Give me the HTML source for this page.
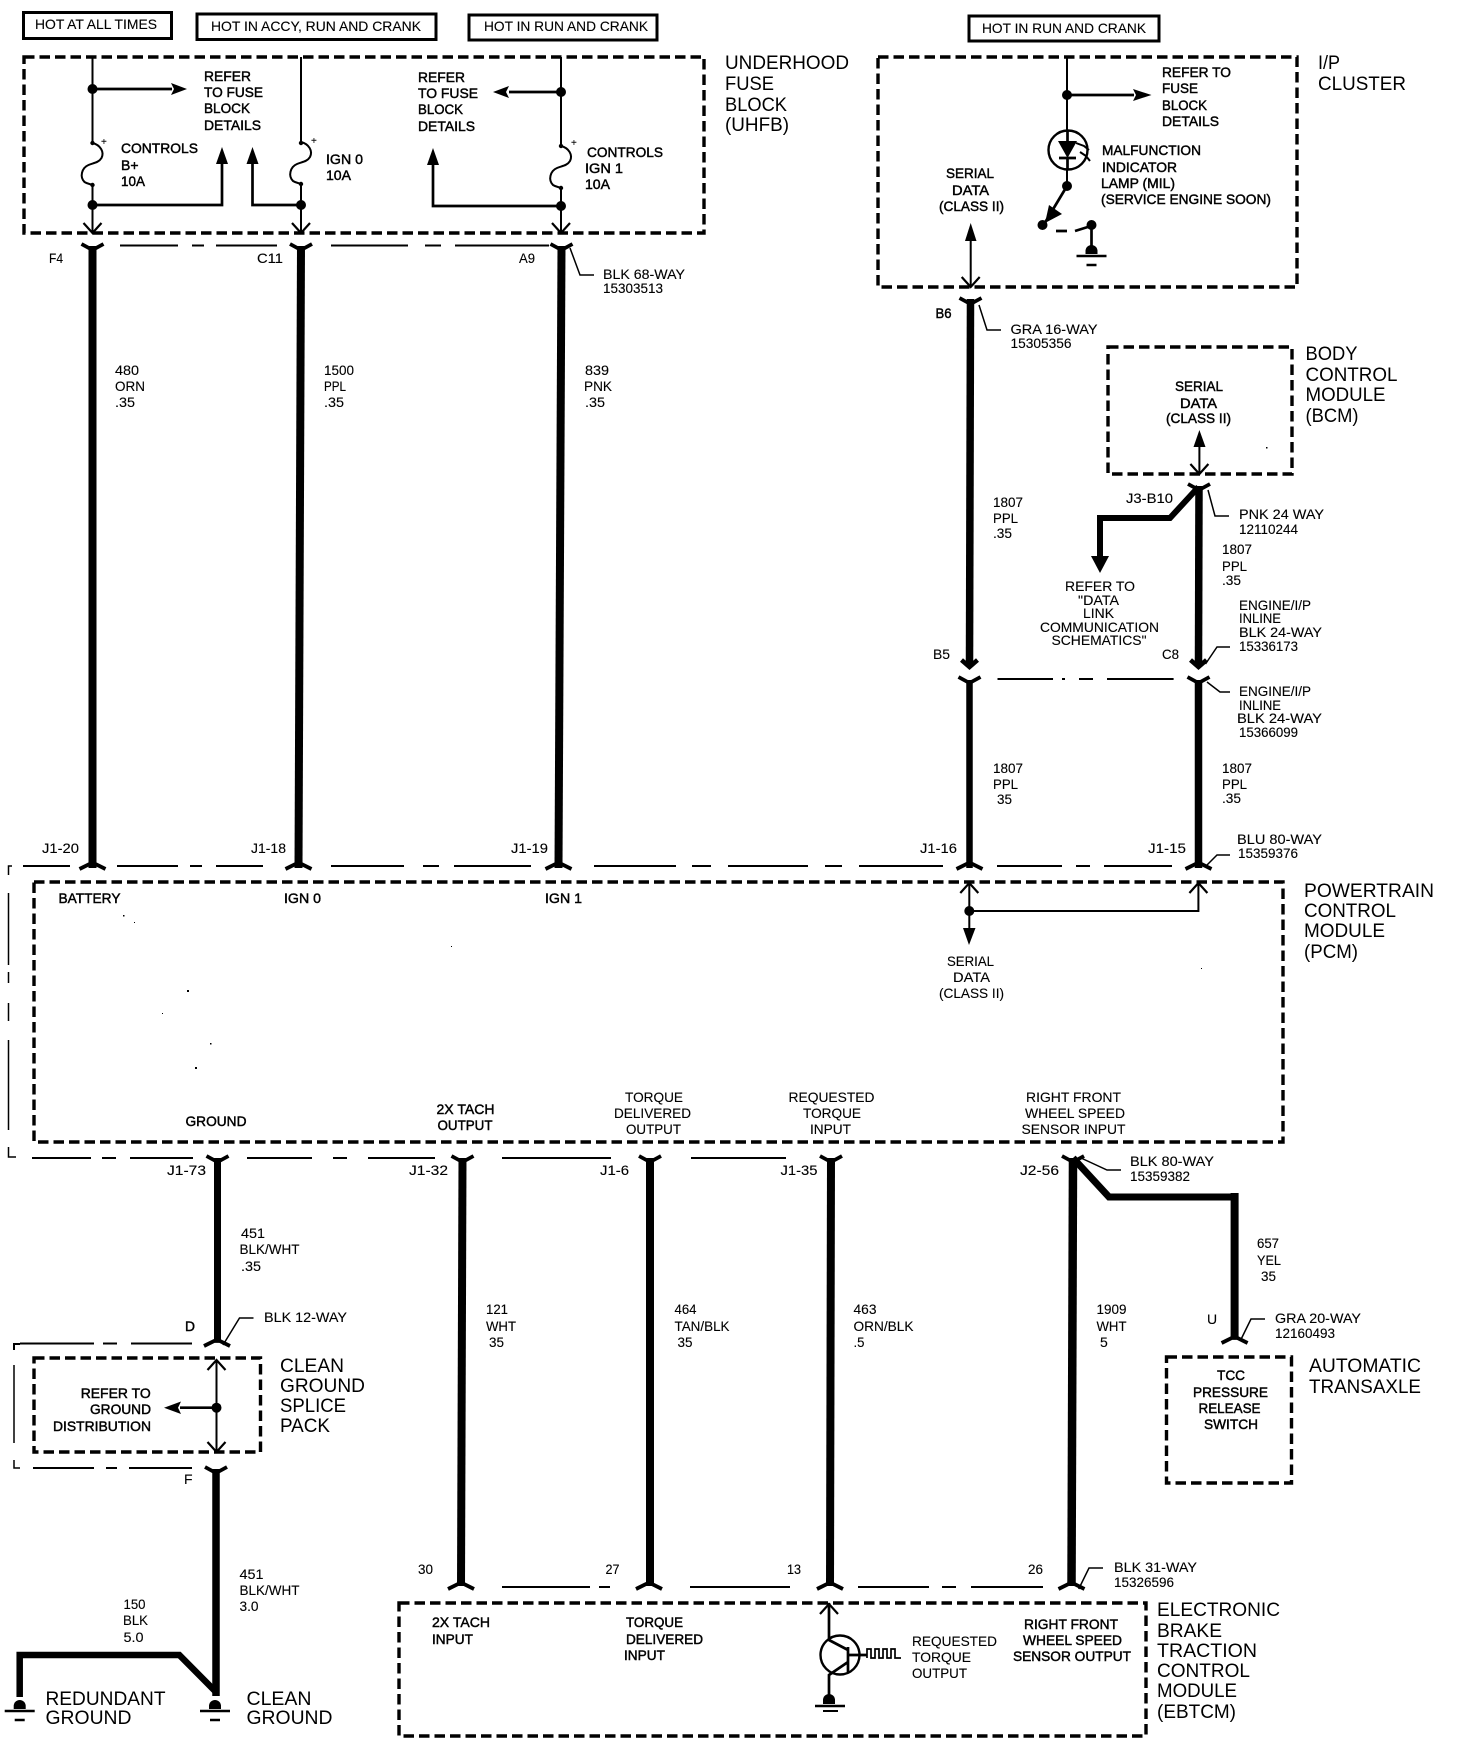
<!DOCTYPE html>
<html>
<head>
<meta charset="utf-8">
<title>Wiring Schematic</title>
<style>
html,body{margin:0;padding:0;background:#fff;width:1472px;height:1748px;overflow:hidden}
svg{display:block}
text{font-family:"Liberation Sans",sans-serif;fill:#000}
.t{font-size:14px;stroke:#000;stroke-width:.12px}
.b{font-size:14px;stroke:#000;stroke-width:.45px}
.L{font-size:19px}
.box{fill:none;stroke:#000;stroke-width:3.4;stroke-dasharray:10.5 5}
.hot{fill:#fff;stroke:#000;stroke-width:3}
.w{fill:none;stroke:#000;stroke-width:8;stroke-linejoin:miter}
.n{fill:none;stroke:#000;stroke-width:2}
.m{fill:none;stroke:#000;stroke-width:2.7}
.l{fill:none;stroke:#000;stroke-width:1.5}
.d{fill:none;stroke:#000;stroke-width:2}
.o{fill:none;stroke:#000;stroke-width:2.2}
.c{fill:none;stroke:#000;stroke-width:3.8}
.k{fill:none;stroke:#000;stroke-width:4.5}
</style>
</head>
<body>
<svg width="1472" height="1748" viewBox="0 0 1472 1748" xmlns="http://www.w3.org/2000/svg">
<defs>
<path id="ct" class="c" d="M-11 -2L0 4L11 -2"/>
<path id="cb" class="c" d="M-13 3L-3 -2L3 -2L13 3"/>
<path id="ad" class="o" d="M-9 -10L0 0L9 -10"/>
<path id="au" class="o" d="M-9 10L0 0L9 10"/>
<path id="kd" class="k" d="M-8 -8L0 -1L8 -8"/>
<path id="fuse" class="n" d="M0 0C8 2 12 9 9 15C6 20 0 20 -4 22C-11 25 -13 34 -8 39C-5 41 -2 41 0 42"/>
<g id="gnd"><path d="M-6 0A6 6 0 0 1 6 0L6 3L-6 3Z"/><path d="M-15 5H15" stroke="#000" stroke-width="2.5"/><path d="M-5 14H5" stroke="#000" stroke-width="2.5"/></g>
</defs>
<rect width="1472" height="1748" fill="#fff"/>

<!-- hot boxes -->
<rect class="hot" x="23.5" y="12.5" width="148" height="26"/>
<rect class="hot" x="197" y="14" width="239" height="25.5"/>
<rect class="hot" x="469" y="15" width="188" height="25"/>
<rect class="hot" x="969" y="16" width="190" height="25"/>
<text class="t" x="35" y="29" textLength="122" lengthAdjust="spacingAndGlyphs">HOT AT ALL TIMES</text>
<text class="t" x="211" y="31" textLength="210" lengthAdjust="spacingAndGlyphs">HOT IN ACCY, RUN AND CRANK</text>
<text class="t" x="484" y="31" textLength="164" lengthAdjust="spacingAndGlyphs">HOT IN RUN AND CRANK</text>
<text class="t" x="982" y="33" textLength="164" lengthAdjust="spacingAndGlyphs">HOT IN RUN AND CRANK</text>

<!-- UHFB box -->
<rect class="box" x="24" y="57" width="680" height="176"/>
<path class="n" d="M92.5 57V143M92.5 185V233M301 57V143M301 184V233M561 57V145M561 188V233"/>
<use href="#fuse" x="92.5" y="143"/>
<use href="#fuse" x="301" y="142"/>
<use href="#fuse" x="561" y="146"/>
<circle cx="92.5" cy="89" r="5"/><circle cx="92.5" cy="205" r="5"/><circle cx="301" cy="205" r="5"/><circle cx="561" cy="206" r="5"/><circle cx="561" cy="92" r="5"/>
<circle cx="92.5" cy="143" r="2.2"/><circle cx="92.5" cy="185" r="2.2"/><circle cx="301" cy="143" r="2.2"/><circle cx="301" cy="184" r="2.2"/><circle cx="561" cy="146" r="2.2"/><circle cx="561" cy="188" r="2.2"/>
<path class="m" d="M92.5 89H172M509 92H561V92M509 92H561"/>
<path d="M171 83L187 89L171 95L174 89Z"/><path d="M509 86L493 92L509 98L506 92Z"/>
<path class="m" d="M92.5 205H222V162M252.5 162V205H301M433 162V206H561"/>
<path d="M222 147L216 164H228Z"/><path d="M252.5 147L246.5 164H258.5Z"/><path d="M433 148L427 165H439Z"/>
<use href="#ad" x="92.5" y="233"/><use href="#ad" x="301" y="233"/><use href="#ad" x="561" y="233"/>
<text class="t" x="101" y="145" style="font-size:10px">+</text><text class="t" x="311" y="144" style="font-size:10px">+</text><text class="t" x="571" y="146" style="font-size:10px">+</text>
<text class="b" x="204" y="81" textLength="47" lengthAdjust="spacingAndGlyphs">REFER</text>
<text class="b" x="204" y="97" textLength="59" lengthAdjust="spacingAndGlyphs">TO FUSE</text>
<text class="b" x="204" y="113" textLength="46" lengthAdjust="spacingAndGlyphs">BLOCK</text>
<text class="b" x="204" y="130" textLength="57" lengthAdjust="spacingAndGlyphs">DETAILS</text>
<text class="b" x="418" y="82" textLength="47" lengthAdjust="spacingAndGlyphs">REFER</text>
<text class="b" x="418" y="98" textLength="60" lengthAdjust="spacingAndGlyphs">TO FUSE</text>
<text class="b" x="418" y="114" textLength="45" lengthAdjust="spacingAndGlyphs">BLOCK</text>
<text class="b" x="418" y="131" textLength="57" lengthAdjust="spacingAndGlyphs">DETAILS</text>
<text class="b" x="121" y="153" textLength="77" lengthAdjust="spacingAndGlyphs">CONTROLS</text>
<text class="b" x="121" y="170">B+</text>
<text class="b" x="121" y="186" textLength="24" lengthAdjust="spacingAndGlyphs">10A</text>
<text class="b" x="326" y="164" textLength="37" lengthAdjust="spacingAndGlyphs">IGN 0</text>
<text class="b" x="326" y="180" textLength="25" lengthAdjust="spacingAndGlyphs">10A</text>
<text class="b" x="587" y="157" textLength="76" lengthAdjust="spacingAndGlyphs">CONTROLS</text>
<text class="b" x="585" y="173" textLength="38" lengthAdjust="spacingAndGlyphs">IGN 1</text>
<text class="b" x="585" y="189" textLength="25" lengthAdjust="spacingAndGlyphs">10A</text>
<text class="L" x="725" y="69" textLength="124" lengthAdjust="spacingAndGlyphs">UNDERHOOD</text>
<text class="L" x="725" y="90" textLength="49" lengthAdjust="spacingAndGlyphs">FUSE</text>
<text class="L" x="725" y="111" textLength="62" lengthAdjust="spacingAndGlyphs">BLOCK</text>
<text class="L" x="725" y="131" textLength="64" lengthAdjust="spacingAndGlyphs">(UHFB)</text>

<!-- harness dashed 245 -->
<path class="d" d="M120 245.5H178M192 245.5H204M216 245.5H277M331 245.5H408M425 245.5H441M455 245.5H549"/>
<!-- upper wires -->
<path class="w" d="M92.5 246V868"/>
<path class="w" d="M301 246L298.5 868"/>
<path class="w" d="M561.5 246L558.5 868"/>
<use href="#ct" x="92.5" y="246"/><use href="#ct" x="301" y="246"/><use href="#ct" x="561.5" y="246"/>
<text class="t" x="49" y="263" textLength="14" lengthAdjust="spacingAndGlyphs">F4</text>
<text class="t" x="257" y="263" textLength="26" lengthAdjust="spacingAndGlyphs">C11</text>
<text class="t" x="519" y="263" textLength="16" lengthAdjust="spacingAndGlyphs">A9</text>
<path class="l" d="M570 248L580 275H594"/>
<text class="t" x="603" y="279" textLength="82" lengthAdjust="spacingAndGlyphs">BLK 68-WAY</text>
<text class="t" x="603" y="293" textLength="60" lengthAdjust="spacingAndGlyphs">15303513</text>
<text class="t" x="115" y="375" textLength="24" lengthAdjust="spacingAndGlyphs">480</text>
<text class="t" x="115" y="391" textLength="30" lengthAdjust="spacingAndGlyphs">ORN</text>
<text class="t" x="115" y="407" textLength="20" lengthAdjust="spacingAndGlyphs">.35</text>
<text class="t" x="324" y="375" textLength="30" lengthAdjust="spacingAndGlyphs">1500</text>
<text class="t" x="324" y="391" textLength="22" lengthAdjust="spacingAndGlyphs">PPL</text>
<text class="t" x="324" y="407" textLength="20" lengthAdjust="spacingAndGlyphs">.35</text>
<text class="t" x="585" y="375" textLength="24" lengthAdjust="spacingAndGlyphs">839</text>
<text class="t" x="584" y="391" textLength="28" lengthAdjust="spacingAndGlyphs">PNK</text>
<text class="t" x="585" y="407" textLength="20" lengthAdjust="spacingAndGlyphs">.35</text>
<text class="t" x="42" y="853" textLength="37" lengthAdjust="spacingAndGlyphs">J1-20</text>
<text class="t" x="251" y="853" textLength="35" lengthAdjust="spacingAndGlyphs">J1-18</text>
<text class="t" x="511" y="853" textLength="37" lengthAdjust="spacingAndGlyphs">J1-19</text>

<!-- I/P cluster -->
<rect class="box" x="878" y="57" width="419" height="230"/>
<path class="n" d="M1067 57V130M1067 170V186"/>
<circle cx="1067" cy="95" r="5"/>
<path class="m" d="M1067 95H1134"/><path d="M1133 89L1151.5 95L1133 101L1136 95Z"/>
<circle cx="1068" cy="150" r="19.5" fill="none" stroke="#000" stroke-width="2.4"/>
<path d="M1058 141H1077L1067.5 158Z"/>
<path class="m" d="M1059 158H1076M1067.5 130V141M1067.5 158V170"/>
<path d="M1076 143L1084 146L1089 150M1080 152L1086 156L1090 161" fill="none" stroke="#000" stroke-width="2"/>
<circle cx="1067" cy="186" r="5"/>
<path class="m" d="M1067 186L1043 226"/>
<path d="M1049 205L1062 214L1045 223Z"/>
<circle cx="1042.5" cy="225" r="5"/><circle cx="1091.5" cy="225" r="5"/>
<path class="m" d="M1056 231H1067M1075 231L1091 226M1091.5 225V250"/>
<use href="#gnd" x="1091.5" y="251"/>
<text class="b" x="1162" y="77" textLength="69" lengthAdjust="spacingAndGlyphs">REFER TO</text>
<text class="b" x="1162" y="93" textLength="36" lengthAdjust="spacingAndGlyphs">FUSE</text>
<text class="b" x="1162" y="110" textLength="45" lengthAdjust="spacingAndGlyphs">BLOCK</text>
<text class="b" x="1162" y="126" textLength="57" lengthAdjust="spacingAndGlyphs">DETAILS</text>
<text class="b" x="1102" y="155" textLength="99" lengthAdjust="spacingAndGlyphs">MALFUNCTION</text>
<text class="b" x="1102" y="172" textLength="75" lengthAdjust="spacingAndGlyphs">INDICATOR</text>
<text class="b" x="1101" y="188" textLength="74" lengthAdjust="spacingAndGlyphs">LAMP (MIL)</text>
<text class="b" x="1101" y="204" textLength="170" lengthAdjust="spacingAndGlyphs">(SERVICE ENGINE SOON)</text>
<text class="b" x="946" y="178" textLength="48" lengthAdjust="spacingAndGlyphs">SERIAL</text>
<text class="b" x="952" y="195" textLength="37" lengthAdjust="spacingAndGlyphs">DATA</text>
<text class="b" x="939" y="211" textLength="65" lengthAdjust="spacingAndGlyphs">(CLASS II)</text>
<path class="n" d="M970.7 238V287"/><path d="M970.7 223L965 241H976.5Z"/>
<use href="#ad" x="970.7" y="287"/>
<text class="L" x="1318" y="69" textLength="22" lengthAdjust="spacingAndGlyphs">I/P</text>
<text class="L" x="1318" y="90" textLength="88" lengthAdjust="spacingAndGlyphs">CLUSTER</text>

<!-- left serial wire -->
<path class="w" style="stroke-width:7.5" d="M970.5 299L969.5 664"/>
<use href="#ct" x="970.5" y="300"/><use href="#kd" x="969.5" y="668"/>
<text class="b" x="935.5" y="318" textLength="16" lengthAdjust="spacingAndGlyphs">B6</text>
<path class="l" d="M979 305L987 330H1001"/>
<text class="t" x="1010.5" y="334" textLength="87" lengthAdjust="spacingAndGlyphs">GRA 16-WAY</text>
<text class="t" x="1010.5" y="348" textLength="61" lengthAdjust="spacingAndGlyphs">15305356</text>
<text class="t" x="993" y="507" textLength="30" lengthAdjust="spacingAndGlyphs">1807</text>
<text class="t" x="993" y="523" textLength="25" lengthAdjust="spacingAndGlyphs">PPL</text>
<text class="t" x="993" y="538" textLength="19" lengthAdjust="spacingAndGlyphs">.35</text>
<text class="t" x="933" y="659" textLength="17" lengthAdjust="spacingAndGlyphs">B5</text>

<!-- BCM -->
<rect class="box" x="1108" y="347" width="184" height="127"/>
<text class="b" x="1175" y="391" textLength="48" lengthAdjust="spacingAndGlyphs">SERIAL</text>
<text class="b" x="1180" y="408" textLength="37" lengthAdjust="spacingAndGlyphs">DATA</text>
<text class="b" x="1166" y="423" textLength="65" lengthAdjust="spacingAndGlyphs">(CLASS II)</text>
<path class="n" d="M1199.4 445V474"/><path d="M1199.4 430L1193.5 447H1205.5Z"/>
<use href="#ad" x="1199.4" y="474"/>
<text class="L" x="1305.5" y="360" textLength="52" lengthAdjust="spacingAndGlyphs">BODY</text>
<text class="L" x="1305.5" y="381" textLength="92" lengthAdjust="spacingAndGlyphs">CONTROL</text>
<text class="L" x="1305.5" y="401" textLength="80" lengthAdjust="spacingAndGlyphs">MODULE</text>
<text class="L" x="1305.5" y="422" textLength="53" lengthAdjust="spacingAndGlyphs">(BCM)</text>

<!-- right serial wire -->
<path class="w" style="stroke-width:7.5" d="M1199 486L1198.5 664"/>
<use href="#ct" x="1199" y="486"/><use href="#kd" x="1198.5" y="668"/>
<path class="w" style="stroke-width:6" d="M1198.5 487L1170 518H1100V558"/>
<path d="M1091 556H1109L1100 573Z"/>
<text class="t" x="1126" y="503" textLength="47" lengthAdjust="spacingAndGlyphs">J3-B10</text>
<path class="l" d="M1208 490L1215 516H1229"/>
<text class="t" x="1239" y="519" textLength="85" lengthAdjust="spacingAndGlyphs">PNK 24 WAY</text>
<text class="t" x="1239" y="534" textLength="59" lengthAdjust="spacingAndGlyphs">12110244</text>
<text class="t" x="1222" y="554" textLength="30" lengthAdjust="spacingAndGlyphs">1807</text>
<text class="t" x="1222" y="571" textLength="25" lengthAdjust="spacingAndGlyphs">PPL</text>
<text class="t" x="1222" y="585" textLength="19" lengthAdjust="spacingAndGlyphs">.35</text>
<text class="t" x="1065" y="591" textLength="70" lengthAdjust="spacingAndGlyphs">REFER TO</text>
<text class="t" x="1078" y="605" textLength="41" lengthAdjust="spacingAndGlyphs">"DATA</text>
<text class="t" x="1083" y="618" textLength="31" lengthAdjust="spacingAndGlyphs">LINK</text>
<text class="t" x="1040" y="632" textLength="119" lengthAdjust="spacingAndGlyphs">COMMUNICATION</text>
<text class="t" x="1051.5" y="645" textLength="95" lengthAdjust="spacingAndGlyphs">SCHEMATICS"</text>
<text class="t" x="1239" y="610" textLength="72" lengthAdjust="spacingAndGlyphs">ENGINE/I/P</text>
<text class="t" x="1239" y="623" textLength="42" lengthAdjust="spacingAndGlyphs">INLINE</text>
<text class="t" x="1239" y="637" textLength="83" lengthAdjust="spacingAndGlyphs">BLK 24-WAY</text>
<text class="t" x="1239" y="651" textLength="59" lengthAdjust="spacingAndGlyphs">15336173</text>
<path class="l" d="M1205.5 664L1217 647H1230"/>
<text class="t" x="1162" y="659" textLength="17" lengthAdjust="spacingAndGlyphs">C8</text>

<!-- inline 679 -->
<path class="d" d="M997.5 679H1053M1062 679H1065M1079 679H1093M1107 679H1173.6"/>
<path class="w" style="stroke-width:6.5" d="M969.5 680V868"/>
<path class="w" style="stroke-width:7.5" d="M1198.5 680V868"/>
<use href="#ct" x="969.5" y="679"/><use href="#ct" x="1198.5" y="679"/>
<path class="l" d="M1207 682L1220 692H1230"/>
<text class="t" x="1239" y="696" textLength="72" lengthAdjust="spacingAndGlyphs">ENGINE/I/P</text>
<text class="t" x="1239" y="710" textLength="42" lengthAdjust="spacingAndGlyphs">INLINE</text>
<text class="t" x="1237" y="723" textLength="85" lengthAdjust="spacingAndGlyphs">BLK 24-WAY</text>
<text class="t" x="1239" y="737" textLength="59" lengthAdjust="spacingAndGlyphs">15366099</text>
<text class="t" x="993" y="773" textLength="30" lengthAdjust="spacingAndGlyphs">1807</text>
<text class="t" x="993" y="789" textLength="25" lengthAdjust="spacingAndGlyphs">PPL</text>
<text class="t" x="997" y="804" textLength="15" lengthAdjust="spacingAndGlyphs">35</text>
<text class="t" x="1222" y="773" textLength="30" lengthAdjust="spacingAndGlyphs">1807</text>
<text class="t" x="1222" y="789" textLength="25" lengthAdjust="spacingAndGlyphs">PPL</text>
<text class="t" x="1222" y="803" textLength="19" lengthAdjust="spacingAndGlyphs">.35</text>
<text class="t" x="920" y="853" textLength="37" lengthAdjust="spacingAndGlyphs">J1-16</text>
<text class="t" x="1148" y="853" textLength="38" lengthAdjust="spacingAndGlyphs">J1-15</text>
<text class="t" x="1237" y="844" textLength="85" lengthAdjust="spacingAndGlyphs">BLU 80-WAY</text>
<text class="t" x="1238" y="858" textLength="60" lengthAdjust="spacingAndGlyphs">15359376</text>
<path class="l" d="M1205.5 866.5L1217 855H1230"/>

<!-- PCM outer bracket -->
<path class="d" d="M23 866H70M117 866H178M190 866H202M216 866H263M331 866H404M423 866H439M454 866H531M594 866H676M692 866H711M728 866H808M825 866H842M859 866H943M997 866H1062M1076 866H1090M1104 866H1172"/>
<use href="#cb" x="92.5" y="866"/><use href="#cb" x="298.5" y="866"/><use href="#cb" x="558.5" y="866"/><use href="#cb" x="969.5" y="866"/><use href="#cb" x="1198.5" y="866"/>
<path class="l" d="M12 866H8.5V875M8.5 893V965M8.5 972V983M8.5 1003V1021M8.5 1040V1130M8.5 1147V1157H16"/>
<path class="d" d="M32 1158H91M102 1158H116M130 1158H193M247 1158H312M333 1158H347M368 1158H435M502 1158H611M691 1158H786"/>
<rect class="box" x="34" y="882" width="1249" height="260"/>
<text class="b" x="58.5" y="903" textLength="62" lengthAdjust="spacingAndGlyphs">BATTERY</text>
<text class="b" x="284" y="903" textLength="37" lengthAdjust="spacingAndGlyphs">IGN 0</text>
<text class="b" x="545" y="903" textLength="37" lengthAdjust="spacingAndGlyphs">IGN 1</text>
<text class="b" x="185.5" y="1126" textLength="61" lengthAdjust="spacingAndGlyphs">GROUND</text>
<text class="b" x="436.5" y="1114" textLength="58" lengthAdjust="spacingAndGlyphs">2X TACH</text>
<text class="b" x="437.5" y="1130" textLength="55" lengthAdjust="spacingAndGlyphs">OUTPUT</text>
<text class="t" x="625" y="1102" textLength="58" lengthAdjust="spacingAndGlyphs">TORQUE</text>
<text class="t" x="614" y="1118" textLength="77" lengthAdjust="spacingAndGlyphs">DELIVERED</text>
<text class="t" x="626" y="1134" textLength="55" lengthAdjust="spacingAndGlyphs">OUTPUT</text>
<text class="t" x="788.5" y="1102" textLength="86" lengthAdjust="spacingAndGlyphs">REQUESTED</text>
<text class="t" x="803" y="1118" textLength="58" lengthAdjust="spacingAndGlyphs">TORQUE</text>
<text class="t" x="810" y="1134" textLength="41" lengthAdjust="spacingAndGlyphs">INPUT</text>
<text class="t" x="1026" y="1102" textLength="95" lengthAdjust="spacingAndGlyphs">RIGHT FRONT</text>
<text class="t" x="1025" y="1118" textLength="100" lengthAdjust="spacingAndGlyphs">WHEEL SPEED</text>
<text class="t" x="1021.5" y="1134" textLength="104" lengthAdjust="spacingAndGlyphs">SENSOR INPUT</text>
<path class="n" d="M969.3 883V930M969.3 911H1198.4V883"/>
<use href="#au" x="969.3" y="883"/><use href="#au" x="1198.4" y="883"/>
<circle cx="969.3" cy="911" r="5"/>
<path d="M963 928L969 945L975.5 928Z"/>
<text class="t" x="947" y="966" textLength="47" lengthAdjust="spacingAndGlyphs">SERIAL</text>
<text class="t" x="953" y="982" textLength="37" lengthAdjust="spacingAndGlyphs">DATA</text>
<text class="t" x="939" y="998" textLength="65" lengthAdjust="spacingAndGlyphs">(CLASS II)</text>
<text class="L" x="1304" y="897" textLength="130" lengthAdjust="spacingAndGlyphs">POWERTRAIN</text>
<text class="L" x="1304" y="917" textLength="92" lengthAdjust="spacingAndGlyphs">CONTROL</text>
<text class="L" x="1304" y="937" textLength="81" lengthAdjust="spacingAndGlyphs">MODULE</text>
<text class="L" x="1304" y="958" textLength="54" lengthAdjust="spacingAndGlyphs">(PCM)</text>

<!-- lower wires -->
<path class="w" style="stroke-width:7" d="M217.5 1158V1342"/>
<path class="w" d="M462.5 1158L461 1586"/>
<path class="w" d="M650 1158V1586"/>
<path class="w" d="M831 1158L830 1586"/>
<path class="w" style="stroke-width:8.5" d="M1073 1158L1071.5 1586"/>
<path class="w" style="stroke-width:7" d="M1073 1158L1109 1197H1234.6"/>
<path class="w" d="M1234.6 1193V1338"/>
<use href="#ct" x="217.5" y="1158"/><use href="#ct" x="462.5" y="1158"/><use href="#ct" x="650" y="1158"/><use href="#ct" x="831" y="1158"/><use href="#ct" x="1073" y="1158"/>
<text class="t" x="167" y="1175" textLength="39" lengthAdjust="spacingAndGlyphs">J1-73</text>
<text class="t" x="409" y="1175" textLength="39" lengthAdjust="spacingAndGlyphs">J1-32</text>
<text class="t" x="600" y="1175" textLength="29" lengthAdjust="spacingAndGlyphs">J1-6</text>
<text class="t" x="780.5" y="1175" textLength="37" lengthAdjust="spacingAndGlyphs">J1-35</text>
<text class="t" x="1020" y="1175" textLength="39" lengthAdjust="spacingAndGlyphs">J2-56</text>
<path class="l" d="M1081 1158L1107 1170H1121"/>
<text class="t" x="1130" y="1166" textLength="84" lengthAdjust="spacingAndGlyphs">BLK 80-WAY</text>
<text class="t" x="1130" y="1181" textLength="60" lengthAdjust="spacingAndGlyphs">15359382</text>
<text class="t" x="1257" y="1248" textLength="22" lengthAdjust="spacingAndGlyphs">657</text>
<text class="t" x="1257" y="1265" textLength="24" lengthAdjust="spacingAndGlyphs">YEL</text>
<text class="t" x="1261" y="1281" textLength="15" lengthAdjust="spacingAndGlyphs">35</text>
<text class="t" x="241" y="1238" textLength="24" lengthAdjust="spacingAndGlyphs">451</text>
<text class="t" x="239.5" y="1254" textLength="60" lengthAdjust="spacingAndGlyphs">BLK/WHT</text>
<text class="t" x="241" y="1271" textLength="20" lengthAdjust="spacingAndGlyphs">.35</text>
<text class="t" x="486" y="1314" textLength="22" lengthAdjust="spacingAndGlyphs">121</text>
<text class="t" x="486" y="1331" textLength="30" lengthAdjust="spacingAndGlyphs">WHT</text>
<text class="t" x="489" y="1347" textLength="15" lengthAdjust="spacingAndGlyphs">35</text>
<text class="t" x="674.5" y="1314" textLength="22" lengthAdjust="spacingAndGlyphs">464</text>
<text class="t" x="674.5" y="1331" textLength="55" lengthAdjust="spacingAndGlyphs">TAN/BLK</text>
<text class="t" x="677.5" y="1347" textLength="15" lengthAdjust="spacingAndGlyphs">35</text>
<text class="t" x="853.5" y="1314" textLength="23" lengthAdjust="spacingAndGlyphs">463</text>
<text class="t" x="853.5" y="1331" textLength="60" lengthAdjust="spacingAndGlyphs">ORN/BLK</text>
<text class="t" x="853.5" y="1347" textLength="11" lengthAdjust="spacingAndGlyphs">.5</text>
<text class="t" x="1096.5" y="1314" textLength="30" lengthAdjust="spacingAndGlyphs">1909</text>
<text class="t" x="1096.5" y="1331" textLength="30" lengthAdjust="spacingAndGlyphs">WHT</text>
<text class="t" x="1100" y="1347">5</text>

<!-- clean ground splice -->
<use href="#cb" x="217" y="1343"/>
<text class="b" x="185" y="1331" textLength="10" lengthAdjust="spacingAndGlyphs">D</text>
<path class="l" d="M223 1345L239.5 1318H253.5"/>
<text class="t" x="264" y="1322" textLength="83" lengthAdjust="spacingAndGlyphs">BLK 12-WAY</text>
<path class="d" d="M14 1350V1344H20M20 1343.5H94M103 1343.5H117M131 1343.5H192"/>
<path class="l" d="M14 1365V1443M14 1460V1468H20"/>
<path class="d" d="M33 1468H94M106 1468H117M129 1468H192"/>
<rect class="box" x="34" y="1358" width="226.5" height="94"/>
<path class="n" d="M216.5 1360V1452"/>
<use href="#au" x="216.5" y="1360"/><use href="#ad" x="216.5" y="1452"/>
<circle cx="216.5" cy="1407.7" r="5"/>
<path class="m" d="M180 1407.7H216.5"/><path d="M181 1401.5L164 1407.7L181 1414L178 1407.7Z"/>
<text class="b" x="80.7" y="1398" textLength="70" lengthAdjust="spacingAndGlyphs">REFER TO</text>
<text class="b" x="90" y="1414" textLength="61" lengthAdjust="spacingAndGlyphs">GROUND</text>
<text class="b" x="53" y="1431" textLength="98" lengthAdjust="spacingAndGlyphs">DISTRIBUTION</text>
<text class="L" x="280" y="1372" textLength="64" lengthAdjust="spacingAndGlyphs">CLEAN</text>
<text class="L" x="280" y="1392" textLength="85" lengthAdjust="spacingAndGlyphs">GROUND</text>
<text class="L" x="280" y="1412" textLength="66" lengthAdjust="spacingAndGlyphs">SPLICE</text>
<text class="L" x="280" y="1432" textLength="50" lengthAdjust="spacingAndGlyphs">PACK</text>
<text class="t" x="184" y="1484">F</text>
<path class="w" style="stroke-width:7.5" d="M216 1469V1696"/>
<use href="#ct" x="216" y="1469"/>
<path class="w" style="stroke-width:6.5" d="M216 1692L179.3 1655H19.7V1697"/>
<use href="#gnd" x="19.7" y="1706"/><use href="#gnd" x="215" y="1706"/>
<text class="L" x="45.5" y="1705" textLength="120" lengthAdjust="spacingAndGlyphs">REDUNDANT</text>
<text class="L" x="45.5" y="1724" textLength="86" lengthAdjust="spacingAndGlyphs">GROUND</text>
<text class="L" x="246.5" y="1705" textLength="65" lengthAdjust="spacingAndGlyphs">CLEAN</text>
<text class="L" x="246.5" y="1724" textLength="86" lengthAdjust="spacingAndGlyphs">GROUND</text>
<text class="t" x="123.5" y="1609" textLength="22" lengthAdjust="spacingAndGlyphs">150</text>
<text class="t" x="123" y="1625" textLength="25" lengthAdjust="spacingAndGlyphs">BLK</text>
<text class="t" x="123.5" y="1642" textLength="20" lengthAdjust="spacingAndGlyphs">5.0</text>
<text class="t" x="239.5" y="1579" textLength="24" lengthAdjust="spacingAndGlyphs">451</text>
<text class="t" x="239.5" y="1595" textLength="60" lengthAdjust="spacingAndGlyphs">BLK/WHT</text>
<text class="t" x="239.5" y="1611" textLength="19" lengthAdjust="spacingAndGlyphs">3.0</text>

<!-- U connector / TCC -->
<use href="#cb" x="1234.6" y="1340"/>
<text class="t" x="1207" y="1324">U</text>
<path class="l" d="M1240.7 1340L1251 1319H1265"/>
<text class="t" x="1275" y="1323" textLength="86" lengthAdjust="spacingAndGlyphs">GRA 20-WAY</text>
<text class="t" x="1275" y="1338" textLength="60" lengthAdjust="spacingAndGlyphs">12160493</text>
<rect class="box" x="1166.5" y="1357" width="125" height="126"/>
<text class="b" x="1217" y="1380" textLength="28" lengthAdjust="spacingAndGlyphs">TCC</text>
<text class="b" x="1193" y="1397" textLength="75" lengthAdjust="spacingAndGlyphs">PRESSURE</text>
<text class="b" x="1198.5" y="1413" textLength="62" lengthAdjust="spacingAndGlyphs">RELEASE</text>
<text class="b" x="1204" y="1429" textLength="54" lengthAdjust="spacingAndGlyphs">SWITCH</text>
<text class="L" x="1309" y="1372" textLength="112" lengthAdjust="spacingAndGlyphs">AUTOMATIC</text>
<text class="L" x="1309" y="1393" textLength="112" lengthAdjust="spacingAndGlyphs">TRANSAXLE</text>

<!-- bottom harness -->
<path class="d" d="M502 1587H590M599 1587H610M690 1587H790M858 1587H929M942 1587H956M971 1587H1043"/>
<use href="#cb" x="461" y="1586"/><use href="#cb" x="649" y="1586"/><use href="#cb" x="830" y="1586"/><use href="#cb" x="1071.5" y="1586"/>
<text class="t" x="418" y="1574" textLength="15" lengthAdjust="spacingAndGlyphs">30</text>
<text class="t" x="605.5" y="1574" textLength="14" lengthAdjust="spacingAndGlyphs">27</text>
<text class="t" x="787" y="1574" textLength="14" lengthAdjust="spacingAndGlyphs">13</text>
<text class="t" x="1028" y="1574" textLength="15" lengthAdjust="spacingAndGlyphs">26</text>
<path class="l" d="M1078.7 1589L1089 1568H1103"/>
<text class="t" x="1114" y="1572" textLength="83" lengthAdjust="spacingAndGlyphs">BLK 31-WAY</text>
<text class="t" x="1114" y="1587" textLength="60" lengthAdjust="spacingAndGlyphs">15326596</text>

<!-- EBTCM -->
<rect class="box" x="399" y="1603" width="747" height="133"/>
<text class="b" x="432" y="1627" textLength="58" lengthAdjust="spacingAndGlyphs">2X TACH</text>
<text class="b" x="432" y="1644" textLength="41" lengthAdjust="spacingAndGlyphs">INPUT</text>
<text class="b" x="626" y="1627" textLength="57" lengthAdjust="spacingAndGlyphs">TORQUE</text>
<text class="b" x="626" y="1644" textLength="77" lengthAdjust="spacingAndGlyphs">DELIVERED</text>
<text class="b" x="624" y="1660" textLength="41" lengthAdjust="spacingAndGlyphs">INPUT</text>
<path class="m" d="M829 1603V1640L848 1650M848 1647V1672M848 1662L829 1675V1697M848 1655H867"/>
<use href="#au" x="829" y="1604"/>
<circle cx="840" cy="1655" r="19.5" fill="none" stroke="#000" stroke-width="2.4"/>
<path d="M867 1658V1649H871V1658H875V1649H879V1658H883V1649H887V1658H891V1649H895V1658H901" fill="none" stroke="#000" stroke-width="1.7"/>
<path d="M823 1700A6 6 0 0 1 835 1700V1704H823Z"/>
<path d="M815 1706H845" stroke="#000" stroke-width="2.5"/><path d="M823 1711H838" stroke="#000" stroke-width="2"/>
<text class="t" x="912" y="1646" textLength="85" lengthAdjust="spacingAndGlyphs">REQUESTED</text>
<text class="t" x="912" y="1662" textLength="59" lengthAdjust="spacingAndGlyphs">TORQUE</text>
<text class="t" x="912" y="1678" textLength="55" lengthAdjust="spacingAndGlyphs">OUTPUT</text>
<text class="b" x="1024" y="1629" textLength="94" lengthAdjust="spacingAndGlyphs">RIGHT FRONT</text>
<text class="b" x="1023" y="1645" textLength="99" lengthAdjust="spacingAndGlyphs">WHEEL SPEED</text>
<text class="b" x="1013" y="1661" textLength="118" lengthAdjust="spacingAndGlyphs">SENSOR OUTPUT</text>
<text class="L" x="1157" y="1616" textLength="123" lengthAdjust="spacingAndGlyphs">ELECTRONIC</text>
<text class="L" x="1157" y="1637" textLength="65" lengthAdjust="spacingAndGlyphs">BRAKE</text>
<text class="L" x="1157" y="1657" textLength="100" lengthAdjust="spacingAndGlyphs">TRACTION</text>
<text class="L" x="1157" y="1677" textLength="93" lengthAdjust="spacingAndGlyphs">CONTROL</text>
<text class="L" x="1157" y="1697" textLength="80" lengthAdjust="spacingAndGlyphs">MODULE</text>
<text class="L" x="1157" y="1718" textLength="79" lengthAdjust="spacingAndGlyphs">(EBTCM)</text>

<!-- specks -->
<g><rect x="123" y="915" width="1.5" height="1.5"/><rect x="134" y="922" width="1" height="1"/><rect x="187" y="990" width="2" height="2"/><rect x="162" y="1013" width="1" height="1"/><rect x="210" y="1043" width="1.5" height="1.5"/><rect x="195" y="1067" width="2" height="2"/><rect x="451" y="946" width="1" height="1"/><rect x="1201" y="968" width="1" height="1"/><rect x="1266" y="447" width="1.5" height="1.5"/></g>
</svg>
</body>
</html>
